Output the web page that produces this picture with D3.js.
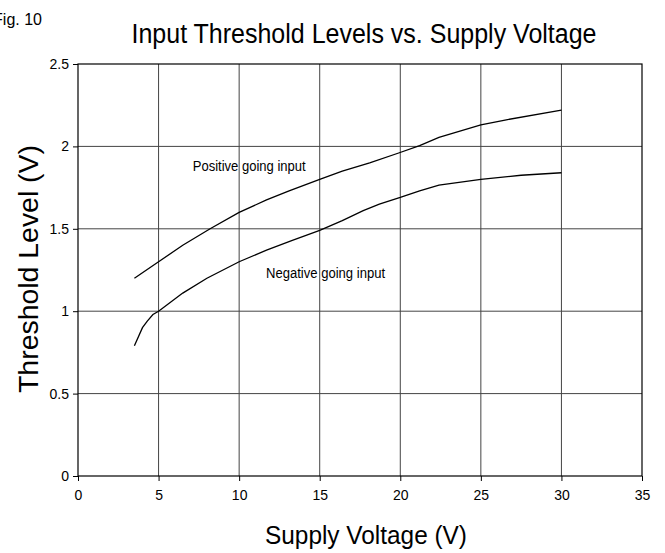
<!DOCTYPE html>
<html>
<head>
<meta charset="utf-8">
<script src="https://cdn.jsdelivr.net/npm/d3@7"></script>
<style>
  body { margin: 0; background: #fff; }
  svg { display: block; font-family: "Liberation Sans", Arial, sans-serif; }
</style>
</head>
<body>
<script>
// data
var posX = [3.5, 5, 6.5, 8.2, 10, 11.7, 13.1, 15, 16.4, 18.1, 19.9, 21.2, 22.4, 25, 26.5, 30];
var posY = [1.2, 1.3, 1.4, 1.5, 1.6, 1.675, 1.73, 1.8, 1.85, 1.9, 1.96, 2.005, 2.055, 2.13, 2.16, 2.22];
var negX = [3.5, 4, 4.3, 4.65, 5, 6.5, 8, 10, 11.7, 13.3, 15, 16.4, 17.7, 18.7, 20, 21.2, 22.4, 25, 27.5, 30];
var negY = [0.79, 0.9, 0.94, 0.98, 1.0, 1.11, 1.2, 1.3, 1.37, 1.43, 1.49, 1.55, 1.61, 1.65, 1.69, 1.73, 1.765, 1.8, 1.825, 1.84];
var xTicks = [0, 5, 10, 15, 20, 25, 30, 35];
var yTicks = [0, 0.5, 1, 1.5, 2, 2.5];

var W = 665, H = 553;
var m = {top: 64, right: 23, bottom: 77, left: 78};

var svg = d3.select(document.body).append('svg')
    .attr('width', W).attr('height', H);

var x = d3.scaleLinear().domain([0, 35]).range([m.left, W - m.right]);
var y = d3.scaleLinear().domain([0, 2.5]).range([H - m.bottom, m.top]);

// grid
svg.append('g').selectAll('line').data(xTicks.slice(1, -1)).enter().append('line')
    .attr('x1', function(d){ return x(d); }).attr('x2', function(d){ return x(d); })
    .attr('y1', y(0)).attr('y2', y(2.5))
    .style('stroke', '#444').style('stroke-width', 1);
svg.append('g').selectAll('line').data(yTicks.slice(1, -1)).enter().append('line')
    .attr('y1', function(d){ return y(d); }).attr('y2', function(d){ return y(d); })
    .attr('x1', x(0)).attr('x2', x(35))
    .style('stroke', '#444').style('stroke-width', 1);

// frame
svg.append('rect')
    .attr('x', x(0)).attr('y', y(2.5))
    .attr('width', x(35) - x(0)).attr('height', y(0) - y(2.5))
    .style('fill', 'none').style('stroke', '#000').style('stroke-width', 1.2);

// axes
var xAxis = svg.append('g').attr('transform', 'translate(0,' + y(0) + ')')
    .call(d3.axisBottom(x).tickValues(xTicks).tickSize(5).tickPadding(9).tickFormat(d3.format('d')));
var yAxis = svg.append('g').attr('transform', 'translate(' + x(0) + ',0)')
    .call(d3.axisLeft(y).tickValues(yTicks).tickSize(5).tickPadding(4).tickFormat(function(d){ return String(d); }));
[xAxis, yAxis].forEach(function(a){
    a.select('.domain').remove();
    a.selectAll('line').style('stroke', '#000');
    a.selectAll('text').style('font-family', '"Liberation Sans", Arial, sans-serif')
        .style('font-size', '14px').style('fill', '#000');
});

// curves
var line = d3.line().x(function(d){ return x(d[0]); }).y(function(d){ return y(d[1]); });
var posData = d3.zip(posX, posY);
var negData = d3.zip(negX, negY);
[posData, negData].forEach(function(dat){
    svg.append('path').datum(dat).attr('d', line)
        .style('fill', 'none').style('stroke', '#000').style('stroke-width', 1.3);
});

// curve labels
svg.append('text').attr('x', x(7.12)).attr('y', y(1.852))
    .attr('textLength', 113).attr('lengthAdjust', 'spacingAndGlyphs')
    .style('font-size', '14px').text('Positive going input');
svg.append('text').attr('x', x(11.67)).attr('y', y(1.203))
    .attr('textLength', 119).attr('lengthAdjust', 'spacingAndGlyphs')
    .style('font-size', '14px').text('Negative going input');

// titles
svg.append('text').attr('x', 131.5).attr('y', 43)
    .attr('textLength', 465).attr('lengthAdjust', 'spacingAndGlyphs')
    .style('font-size', '27px').text('Input Threshold Levels vs. Supply Voltage');
svg.append('text').attr('x', 42).attr('y', 25).attr('text-anchor', 'end')
    .style('font-size', '16px').text('Fig. 10');
svg.append('text').attr('x', 265).attr('y', 544)
    .attr('textLength', 202).attr('lengthAdjust', 'spacingAndGlyphs')
    .style('font-size', '26px').text('Supply Voltage (V)');
svg.append('text').attr('transform', 'translate(37.5,' + (269 + 124) + ') rotate(-90)')
    .attr('textLength', 248).attr('lengthAdjust', 'spacingAndGlyphs')
    .style('font-size', '28px').text('Threshold Level (V)');
</script>
</body>
</html>
